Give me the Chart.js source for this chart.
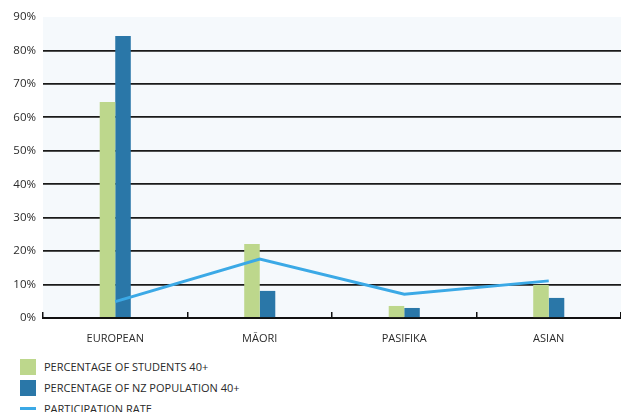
<!DOCTYPE html>
<html>
<head>
<meta charset="utf-8">
<script src="https://cdn.jsdelivr.net/npm/chart.js@4"></script>
<style>
  body { margin: 0; background: #fff; font-family: "Open Sans", sans-serif; }
  #wrap { position: absolute; left: 0; top: 0; width: 621px; height: 345px; }
  #legend { position: absolute; left: 20px; top: 356px; }
  .item { display: flex; align-items: center; height: 21px; font-size: 11px; color: #2a2a2a; }
  .swatch { width: 16px; height: 16px; margin-right: 8px; }
  .dash { width: 16px; height: 3px; margin-right: 8px; }
</style>
</head>
<body>
<div id="wrap"><canvas id="chart"></canvas></div>
<div id="legend"></div>
<script>
const categories = ["EUROPEAN", "MĀORI", "PASIFIKA", "ASIAN"];
const students40 = [64.6, 22.1, 3.6, 9.9];
const population40 = [84.3, 8.1, 3.0, 6.0];
const participation = [4.9, 17.6, 7.1, 11.1];

const green = "#bdd78c";
const blue = "#2a77a8";
const lineBlue = "#3ba9e6";

// светлый фон под областью графика
const plotBg = {
  id: "plotBg",
  beforeDraw(chart) {
    const a = chart.chartArea;
    const ctx = chart.ctx;
    ctx.save();
    ctx.fillStyle = "#f5f9fc";
    ctx.fillRect(a.left, a.top, a.right - a.left, a.bottom - a.top);
    ctx.restore();
  }
};

const chart = new Chart(document.getElementById("chart"), {
  type: "bar",
  data: {
    labels: categories,
    datasets: [
      {
        type: "line",
        label: "PARTICIPATION RATE",
        data: participation,
        borderColor: lineBlue,
        backgroundColor: lineBlue,
        borderWidth: 3,
        pointRadius: 0,
        tension: 0,
        order: 0
      },
      {
        label: "PERCENTAGE OF STUDENTS 40+",
        data: students40,
        backgroundColor: green,
        categoryPercentage: 0.215,
        barPercentage: 1,
        order: 1
      },
      {
        label: "PERCENTAGE OF NZ POPULATION 40+",
        data: population40,
        backgroundColor: blue,
        categoryPercentage: 0.215,
        barPercentage: 1,
        order: 1
      }
    ]
  },
  options: {
    responsive: true,
    maintainAspectRatio: false,
    animation: false,
    layout: { padding: { top: 17, right: 0, left: 0, bottom: 0 } },
    plugins: { legend: { display: false }, tooltip: { enabled: false } },
    scales: {
      x: {
        grid: {
          offset: true,
          drawOnChartArea: false,
          drawTicks: true,
          tickLength: -6,
          color: "#111",
          lineWidth: 1.5
        },
        border: { display: true, color: "#111", width: 2 },
        ticks: {
          color: "#2a2a2a",
          padding: 20,
          font: { family: "Open Sans", size: 11 }
        },
        afterFit(scale) { scale.height = 27; }
      },
      y: {
        min: 0,
        max: 90,
        grid: {
          drawTicks: false,
          color: (c) => (c.tick.value === 0 || c.tick.value === 90 ? "rgba(0,0,0,0)" : "#1a1a1a"),
          lineWidth: 1.8
        },
        border: { display: false },
        ticks: {
          stepSize: 10,
          padding: 7,
          color: "#2a2a2a",
          font: { family: "Open Sans", size: 11.5 },
          callback: (v) => v + "%"
        },
        afterFit(scale) { scale.width = 43; }
      }
    }
  },
  plugins: [plotBg]
});

// легенда: столбцы, затем линия
const legend = document.getElementById("legend");
[chart.data.datasets[1], chart.data.datasets[2], chart.data.datasets[0]].forEach((ds) => {
  const row = document.createElement("div");
  row.className = "item";
  const mark = document.createElement("span");
  mark.className = ds.type === "line" ? "dash" : "swatch";
  mark.style.background = ds.type === "line" ? ds.borderColor : ds.backgroundColor;
  row.appendChild(mark);
  const text = document.createElement("span");
  text.textContent = ds.label;
  row.appendChild(text);
  legend.appendChild(row);
});
</script>
</body>
</html>
